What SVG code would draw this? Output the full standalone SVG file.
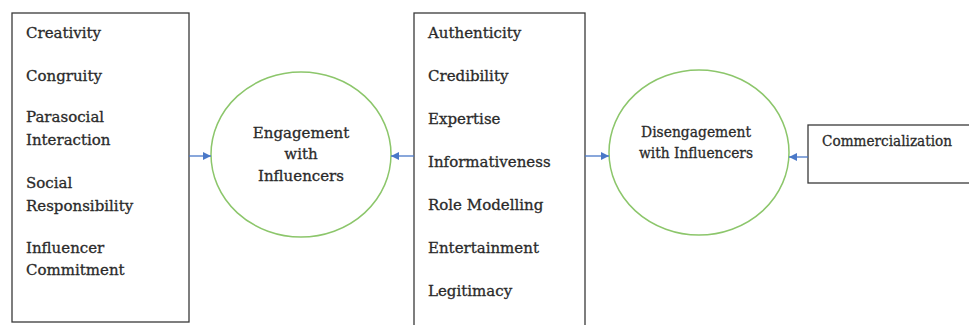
<svg xmlns="http://www.w3.org/2000/svg" width="969" height="325" viewBox="0 0 969 325">
  <style>
    .box { fill: #ffffff; stroke: #3a3a3a; stroke-width: 1.3; }
    .oval { fill: #ffffff; stroke: #8cc66b; stroke-width: 1.5; }
    .lbl { font-family: "DejaVu Serif", "Liberation Serif", serif; font-size: 15px; fill: #2a2a2a; stroke: #2a2a2a; stroke-width: 0.3; }
    .mid { text-anchor: middle; }
    .link { stroke: #4a78c8; stroke-width: 1.3; fill: none; marker-end: url(#head); }
  </style>
  <defs>
    <marker id="head" viewBox="0 0 10 10" refX="10" refY="5" markerWidth="8" markerHeight="8" markerUnits="userSpaceOnUse" orient="auto">
      <path d="M0,0 L10,5 L0,10 Z" fill="#4a78c8"/>
    </marker>
  </defs>
  <rect width="969" height="325" fill="#ffffff"/>

  <g id="antecedents-engagement">
    <rect class="box" x="12" y="13" width="177" height="309"/>
    <text class="lbl" x="26" y="38">Creativity</text>
    <text class="lbl" x="26" y="81">Congruity</text>
    <text class="lbl" x="26" y="122">Parasocial</text>
    <text class="lbl" x="26" y="145">Interaction</text>
    <text class="lbl" x="26" y="188">Social</text>
    <text class="lbl" x="26" y="211">Responsibility</text>
    <text class="lbl" x="26" y="253">Influencer</text>
    <text class="lbl" x="26" y="275">Commitment</text>
  </g>

  <g id="engagement">
    <ellipse class="oval" cx="301" cy="154.5" rx="90" ry="82.5"/>
    <text class="lbl mid" x="301" y="138">Engagement</text>
    <text class="lbl mid" x="301" y="159">with</text>
    <text class="lbl mid" x="301" y="181">Influencers</text>
  </g>

  <g id="shared-factors">
    <rect class="box" x="414" y="13" width="171" height="320"/>
    <text class="lbl" x="428" y="38">Authenticity</text>
    <text class="lbl" x="428" y="81">Credibility</text>
    <text class="lbl" x="428" y="124">Expertise</text>
    <text class="lbl" x="428" y="167">Informativeness</text>
    <text class="lbl" x="428" y="210">Role Modelling</text>
    <text class="lbl" x="428" y="253">Entertainment</text>
    <text class="lbl" x="428" y="296">Legitimacy</text>
  </g>

  <g id="disengagement">
    <ellipse class="oval" cx="699" cy="152.5" rx="90" ry="82.5"/>
    <text class="lbl mid" x="696" y="137" textLength="110" lengthAdjust="spacingAndGlyphs">Disengagement</text>
    <text class="lbl mid" x="696" y="158" textLength="114" lengthAdjust="spacingAndGlyphs">with Influencers</text>
  </g>

  <g id="commercialization">
    <rect class="box" x="808" y="125" width="170" height="58"/>
    <text class="lbl" x="822" y="146" textLength="130" lengthAdjust="spacingAndGlyphs">Commercialization</text>
  </g>

  <g id="connectors">
    <line class="link" x1="189" y1="156" x2="211" y2="156"/>
    <line class="link" x1="414" y1="156" x2="391" y2="156"/>
    <line class="link" x1="585" y1="156" x2="609" y2="156"/>
    <line class="link" x1="808" y1="157" x2="789" y2="157"/>
  </g>
</svg>
